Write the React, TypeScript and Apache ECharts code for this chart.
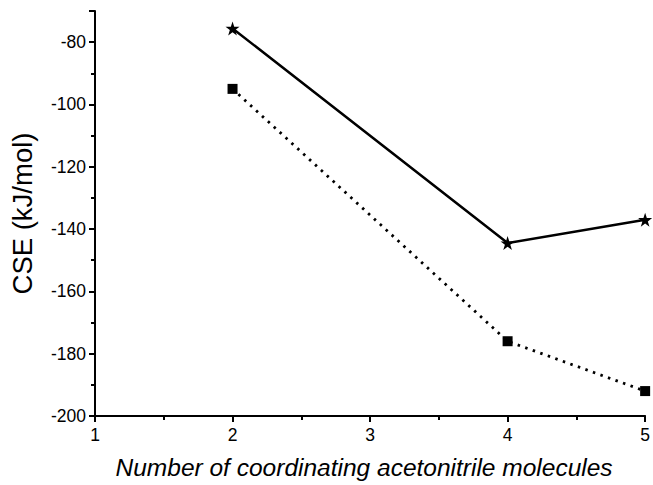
import React, { useEffect, useRef } from "react";
import * as echarts from "echarts";

const xValues = [2, 4, 5];
const starSeries = [-75.6, -144.5, -137];
const squareSeries = [-95, -176, -192];

const STAR =
  "path://M50,0 L61.8,35.1 L98.9,35.1 L68.9,56.9 L80.3,92 L50,70.3 L19.7,92 L31.1,56.9 L1.1,35.1 L38.2,35.1 Z";

export default function App() {
  const ref = useRef<HTMLDivElement>(null);
  useEffect(() => {
    if (!ref.current) return;
    const chart = echarts.init(ref.current, null, { renderer: "svg" });
    const font = "'Liberation Sans', Arial, sans-serif";
    chart.setOption({
      animation: false,
      backgroundColor: "#ffffff",
      grid: { left: 93, right: 6, top: 11, bottom: 67 },
      xAxis: {
        type: "value",
        min: 1,
        max: 5,
        interval: 1,
        name: "Number of coordinating acetonitrile molecules",
        nameLocation: "middle",
        nameGap: 39,
        nameTextStyle: { fontFamily: font, fontSize: 24.5, fontStyle: "italic", color: "#000", padding: [0, 12, 0, 0] },
        axisLine: { lineStyle: { color: "#000", width: 2 } },
        axisTick: { inside: false, length: 6, lineStyle: { color: "#000", width: 2 } },
        minorTick: { show: true, splitNumber: 2, length: 4, lineStyle: { color: "#000", width: 2 } },
        axisLabel: { fontFamily: font, fontSize: 17.5, color: "#000", margin: 10 },
        splitLine: { show: false },
      },
      yAxis: {
        type: "value",
        min: -200,
        max: -70,
        interval: 20,
        name: "CSE (kJ/mol)",
        nameLocation: "middle",
        nameGap: 59,
        nameTextStyle: { fontFamily: font, fontSize: 27.5, color: "#000" },
        axisLine: { lineStyle: { color: "#000", width: 2 } },
        axisTick: { inside: false, length: 6, lineStyle: { color: "#000", width: 2 } },
        minorTick: { show: true, splitNumber: 2, length: 4, lineStyle: { color: "#000", width: 2 } },
        axisLabel: {
          fontFamily: font,
          fontSize: 17.5,
          color: "#000",
          margin: 9,
          showMaxLabel: false,
          formatter: (v: number) => (v === -70 ? "" : String(v)),
        },
        splitLine: { show: false },
      },
      series: [
        {
          type: "line",
          data: xValues.map((x, i) => [x, starSeries[i]]),
          symbol: STAR,
          symbolSize: 14,
          itemStyle: { color: "#000" },
          lineStyle: { color: "#000", width: 2.5 },
        },
        {
          type: "line",
          data: xValues.map((x, i) => [x, squareSeries[i]]),
          symbol: "rect",
          symbolSize: 10,
          itemStyle: { color: "#000" },
          lineStyle: { color: "#000", width: 2.8, type: [2.5, 5.5] },
        },
      ],
    });
    return () => chart.dispose();
  }, []);
  return (
    <div
      ref={ref}
      style={{ width: 653, height: 485, position: "absolute", left: 0, top: 0 }}
    />
  );
}
